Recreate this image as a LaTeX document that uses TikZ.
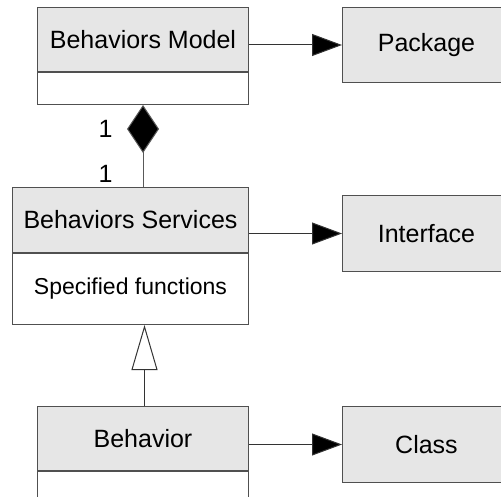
\documentclass[tikz,border=0pt]{standalone}
\usepackage{fontspec}
\setmainfont{Liberation Sans}
\usetikzlibrary{arrows.meta,positioning}
\definecolor{hdrgray}{RGB}{230,230,230}
\definecolor{edgegray}{RGB}{80,80,80}
\begin{document}
\begin{tikzpicture}[x=1pt, y=-1pt,
    hdr/.style={draw=edgegray, fill=hdrgray, line width=1pt, inner sep=0pt,
                anchor=north west, font=\fontsize{25}{30}\selectfont},
    bdy/.style={draw=edgegray, fill=white, line width=1pt, inner sep=0pt,
                font=\fontsize{23}{27}\selectfont},
    lbl/.style={inner sep=0pt, font=\fontsize{25}{30}\selectfont},
    assoc/.style={draw=black!80, line width=1pt, -{Triangle[length=30pt, width=22pt, fill=black]}},
    comp/.style={draw=black!65, line width=1pt, {Diamond[length=48pt, width=32pt, fill=black]}-},
    gen/.style={draw=black!80, line width=1pt, -{Triangle[length=45pt, width=26pt, fill=white]}}]
    \useasboundingbox (0, 0) rectangle (501, 497);
    \node[hdr, minimum width=211pt, minimum height=64pt] (mdl) at (37, 7) {Behaviors Model};
    \node[bdy, minimum width=211pt, minimum height=32pt, below=0pt of mdl] (mdlb) {};
    \node[hdr, minimum width=236pt, minimum height=65pt] (srv) at (12, 187) {Behaviors Services};
    \node[bdy, minimum width=236pt, minimum height=71pt, below=0pt of srv] (srvb) {Specified functions};
    \node[hdr, minimum width=211pt, minimum height=64pt] (bhv) at (37, 406) {Behavior};
    \node[bdy, minimum width=211pt, minimum height=40pt, below=0pt of bhv] (bhvb) {};
    \node[hdr, minimum width=168pt, minimum height=75pt] (pkg) at (342, 7) {Package};
    \node[hdr, minimum width=168pt, minimum height=76pt] (ifc) at (342, 195) {Interface};
    \node[hdr, minimum width=168pt, minimum height=76pt] (cls) at (342, 406) {Class};
    \node[lbl] (m1) at (105.5, 129) {1};
    \node[lbl] (m2) at (105.5, 173.5) {1};
    \draw[assoc] (mdl.east |- pkg.west) -- (pkg.west);
    \draw[assoc] (srv.east |- ifc.west) -- (ifc.west);
    \draw[assoc] (bhv.east |- cls.west) -- (cls.west);
    \draw[comp] (mdlb.south) -- (mdlb.south |- srv.north);
    \draw[gen] ([xshift=1.5pt]bhv.north) -- ([xshift=1.5pt]bhv.north |- srvb.south);
\end{tikzpicture}
\end{document}
